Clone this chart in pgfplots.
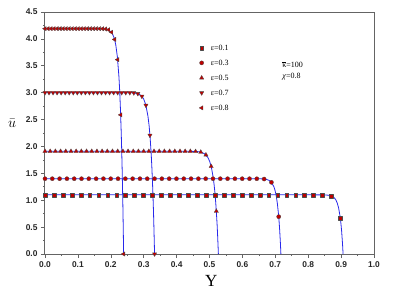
\documentclass[border=0pt]{standalone}
\usepackage{pgfplots}
\pgfplotsset{compat=1.18}
\usepackage{fontspec}
\setmainfont{Liberation Serif}
\setsansfont{Liberation Sans}
\definecolor{lblue}{RGB}{40,40,235}
\definecolor{mred}{RGB}{190,0,0}
\definecolor{axgray}{RGB}{100,100,100}
\begin{document}
\begin{tikzpicture}
\begin{axis}[
  name=ax,
  scale only axis,
  width=329pt, height=242pt,
  xmin=0, xmax=1, ymin=0, ymax=4.5,
  xtick={0,0.1,...,1.0},
  ytick={0,0.5,...,4.5},
  minor x tick num=1,
  minor y tick num=1,
  tick pos=left,
  tick align=outside,
  major tick length=4pt,
  minor tick length=2pt,
  every tick/.style={axgray, line width=0.6pt},
  axis line style={axgray, line width=1pt},
  tick label style={font=\sffamily\bfseries\fontsize{8.4}{9}\selectfont, text=black!85},
  /pgf/number format/assume math mode=true,
  /pgf/number format/fixed,
  /pgf/number format/fixed zerofill,
  /pgf/number format/precision=1,
  xlabel={Y},
  xlabel style={font=\fontsize{17}{18}\selectfont, at={(axis cs:0.505,-0.50)}, anchor=center},
  ylabel={$\bar{u}$},
  ylabel style={font=\fontsize{15}{16}\selectfont, rotate=-90, at={(axis cs:-0.10,2.42)}, anchor=center},
  legend style={draw=none, fill=none, inner sep=0pt, at={(axis cs:0.468,3.92)}, anchor=north west,
    font=\fontsize{8}{9}\selectfont, row sep=6pt, column sep=6pt,
    nodes={inner sep=1pt, text height=6pt, text depth=1pt}},
  legend cell align=left,
  every axis plot/.append style={line join=round},
]
% lines
\addplot[lblue, line width=0.8pt, forget plot] coordinates {(0,1.1) (0.7248,1.1) (0.7973,1.1) (0.8154,1.1) (0.8335,1.0997) (0.8516,1.0977) (0.8607,1.0935) (0.8698,1.0814) (0.8788,1.0476) (0.8834,1.0126) (0.8879,0.9541) (0.8924,0.8572) (0.8969,0.6974) (0.8992,0.5818) (0.9015,0.4336) (0.9042,0.1995) (0.906,0)};
\addplot[lblue, line width=0.8pt, forget plot] coordinates {(0,1.4) (0.5736,1.4) (0.6095,1.4) (0.6310,1.4) (0.6453,1.3994) (0.6596,1.3971) (0.6740,1.3856) (0.6812,1.3685) (0.6883,1.3317) (0.6955,1.2530) (0.6991,1.185) (0.7027,1.0860) (0.7062,0.9423) (0.7098,0.7344) (0.7116,0.598) (0.7134,0.434) (0.7156,0.1928) (0.717,0)};
\addplot[lblue, line width=0.8pt, forget plot] coordinates {(0,1.91) (0.4216,1.91) (0.4480,1.9087) (0.4638,1.9039) (0.4743,1.8933) (0.4848,1.8652) (0.4954,1.7922) (0.5007,1.7200) (0.5059,1.6057) (0.5112,1.4250) (0.5138,1.2988) (0.5165,1.1405) (0.5191,0.9424) (0.5217,0.6949) (0.5231,0.5488) (0.5244,0.3858) (0.5259,0.1646) (0.527,0)};
\addplot[lblue, line width=0.8pt, forget plot] coordinates {(0,3.0) (0.2498,3.0) (0.2664,2.997) (0.2831,2.9805) (0.2930,2.943) (0.2997,2.8856) (0.3064,2.7738) (0.3130,2.5593) (0.3164,2.3883) (0.3197,2.1537) (0.3230,1.8330) (0.3247,1.6314) (0.3263,1.3962) (0.3280,1.1220) (0.3297,0.8031) (0.3305,0.6246) (0.3313,0.4317) (0.3323,0.1806) (0.333,0)};
\addplot[lblue, line width=0.8pt, forget plot] coordinates {(0,4.19) (0.1673,4.1894) (0.1793,4.1869) (0.1912,4.1742) (0.2032,4.1179) (0.2103,4.0186) (0.2151,3.8892) (0.2199,3.6688) (0.2247,3.2980) (0.2271,3.0277) (0.2294,2.6800) (0.2318,2.2333) (0.2330,1.965) (0.2342,1.6613) (0.2354,1.3182) (0.2366,0.9312) (0.2372,0.7186) (0.2378,0.4935) (0.2385,0.2046) (0.239,0)};
% markers
\addplot[only marks, mark=square*, mark size=1.9pt, mark options={fill=mred, draw=black!70, line width=0.3pt}] coordinates {(0,1.1) (0.0272,1.1) (0.0544,1.1) (0.0816,1.1) (0.1088,1.1) (0.136,1.1) (0.1632,1.1) (0.1904,1.1) (0.2176,1.1) (0.2448,1.1) (0.272,1.1) (0.2992,1.1) (0.3264,1.1) (0.3536,1.1) (0.3808,1.1) (0.408,1.1) (0.4352,1.1) (0.4624,1.1) (0.4896,1.1) (0.5168,1.1) (0.544,1.1) (0.5712,1.1) (0.5984,1.1) (0.6256,1.1) (0.6528,1.1) (0.68,1.1) (0.7072,1.1) (0.7344,1.1) (0.7616,1.1) (0.7888,1.1) (0.816,1.1) (0.8432,1.099) (0.8704,1.080) (0.8976,0.666)};
\addlegendentry{ε=0.1}
\addplot[only marks, mark=*, mark size=2.1pt, mark options={fill=mred, draw=black!70, line width=0.3pt}] coordinates {(0,1.4) (0.0222,1.4) (0.0444,1.4) (0.0666,1.4) (0.0888,1.4) (0.111,1.4) (0.1332,1.4) (0.1554,1.4) (0.1776,1.4) (0.1998,1.4) (0.222,1.4) (0.2442,1.4) (0.2664,1.4) (0.2886,1.4) (0.3108,1.4) (0.333,1.4) (0.3552,1.4) (0.3774,1.4) (0.3996,1.4) (0.4218,1.4) (0.444,1.4) (0.4662,1.4) (0.4884,1.4) (0.5106,1.4) (0.5328,1.4) (0.555,1.4) (0.5772,1.4) (0.5994,1.4) (0.6216,1.4) (0.6438,1.3995) (0.666,1.394) (0.6882,1.333) (0.7104,0.694)};
\addlegendentry{ε=0.3}
\addplot[only marks, mark=triangle*, mark size=2.5pt, mark options={fill=mred, draw=black!70, line width=0.3pt}] coordinates {(0,1.91) (0.0158,1.91) (0.0316,1.91) (0.0473,1.91) (0.0631,1.91) (0.0789,1.91) (0.0947,1.91) (0.1105,1.91) (0.1262,1.91) (0.1420,1.91) (0.1578,1.91) (0.1736,1.91) (0.1894,1.91) (0.2051,1.91) (0.2209,1.91) (0.2367,1.91) (0.2525,1.91) (0.2683,1.91) (0.2840,1.91) (0.2998,1.91) (0.3156,1.91) (0.3314,1.91) (0.3472,1.91) (0.3629,1.91) (0.3787,1.91) (0.3945,1.91) (0.4103,1.91) (0.4261,1.91) (0.4418,1.91) (0.4576,1.907) (0.4734,1.895) (0.4892,1.843) (0.5050,1.630) (0.5207,0.796)};
\addlegendentry{ε=0.5}
\addplot[only marks, mark=triangle*, mark size=2.5pt, mark options={rotate=180, fill=mred, draw=black!70, line width=0.3pt}] coordinates {(0,3.0) (0.0123,3.0) (0.0245,3.0) (0.0368,3.0) (0.0491,3.0) (0.0614,3.0) (0.0736,3.0) (0.0859,3.0) (0.0982,3.0) (0.1104,3.0) (0.1227,3.0) (0.1350,3.0) (0.1472,3.0) (0.1595,3.0) (0.1718,3.0) (0.1841,3.0) (0.1963,3.0) (0.2086,3.0) (0.2209,3.0) (0.2331,3.0) (0.2454,3.0) (0.2577,2.999) (0.2699,2.996) (0.2822,2.982) (0.2945,2.933) (0.3068,2.765) (0.3190,2.207) (0.333,0)};
\addlegendentry{ε=0.7}
\addplot[only marks, mark=triangle*, mark size=2.5pt, mark options={rotate=90, fill=mred, draw=black!70, line width=0.3pt}] coordinates {(0,4.19) (0.0092,4.19) (0.0184,4.19) (0.0276,4.19) (0.0368,4.19) (0.046,4.19) (0.0552,4.19) (0.0644,4.19) (0.0736,4.19) (0.0828,4.19) (0.092,4.19) (0.1012,4.19) (0.1104,4.19) (0.1196,4.19) (0.1288,4.19) (0.138,4.19) (0.1472,4.19) (0.1564,4.19) (0.1656,4.19) (0.1748,4.188) (0.184,4.184) (0.1932,4.170) (0.2024,4.124) (0.2116,3.990) (0.2208,3.613) (0.23,2.587) (0.239,0)};
\addlegendentry{ε=0.8}
\node[anchor=west, font=\fontsize{8}{9}\selectfont, inner sep=0pt] at (axis cs:0.721,3.52) {$\overline{\mbox{κ}}$=100};
\node[anchor=west, font=\fontsize{8}{9}\selectfont, inner sep=0pt] at (axis cs:0.721,3.30) {\textit{χ}=0.8};
\coordinate (bl) at (rel axis cs:0,0);
\coordinate (tr) at (rel axis cs:1,1);
\end{axis}
\pgfresetboundingbox
\path[use as bounding box] ([shift={(-45pt,-37pt)}]bl) rectangle ([shift={(21pt,12pt)}]tr);
\end{tikzpicture}
\end{document}
